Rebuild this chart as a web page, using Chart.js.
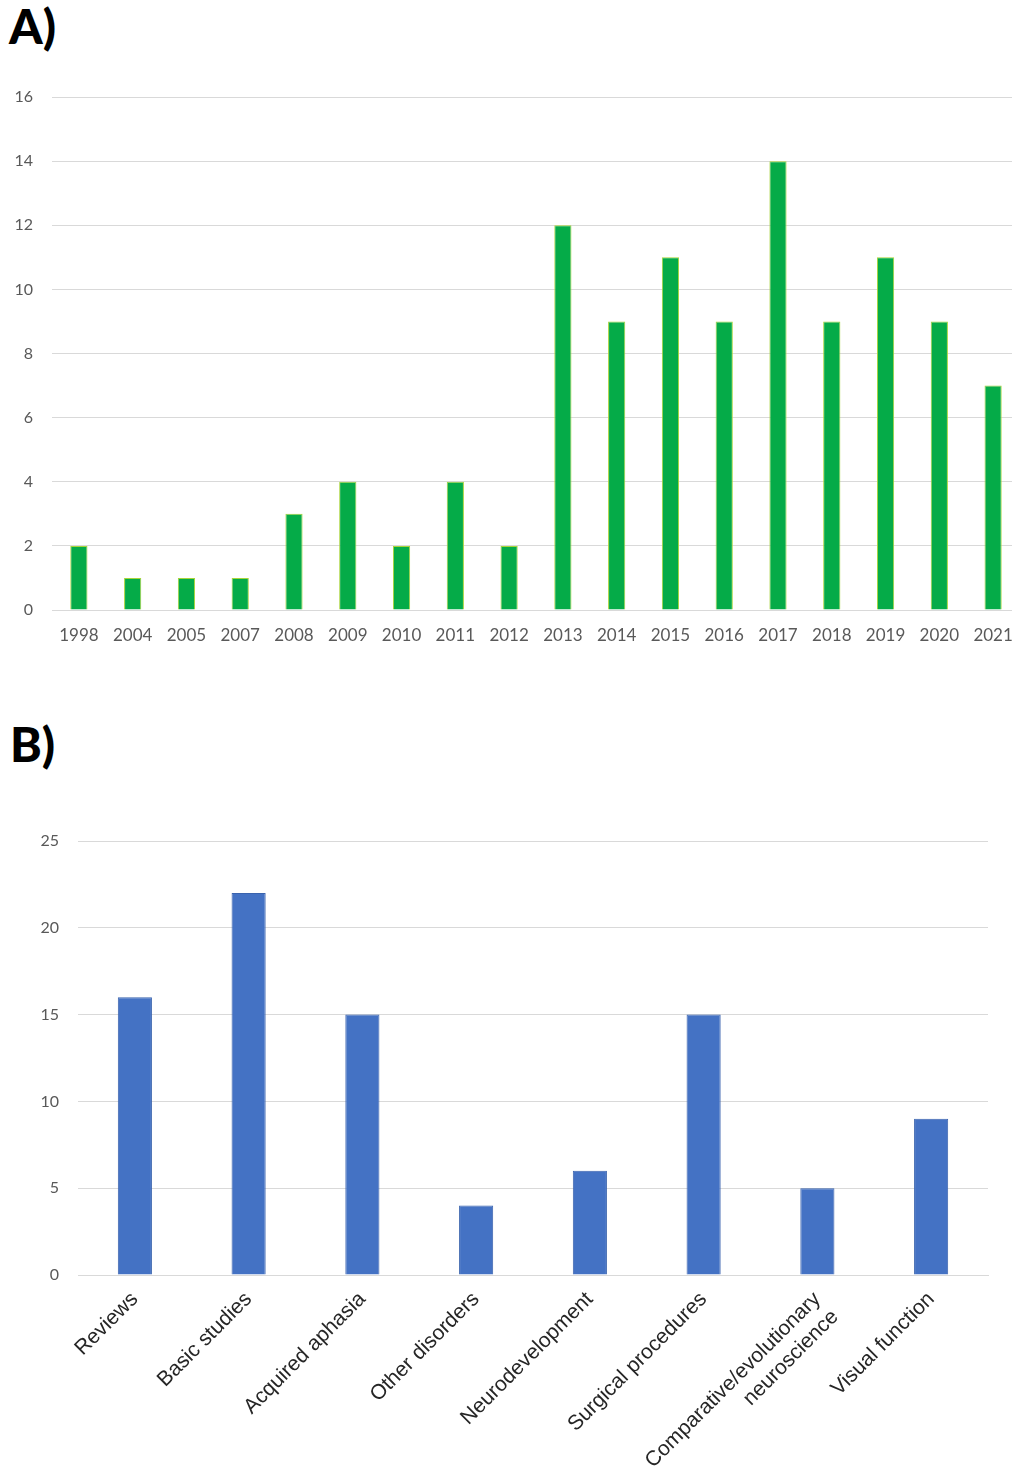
<!DOCTYPE html>
<html>
<head>
<meta charset="utf-8">
<script src="https://cdn.jsdelivr.net/npm/chart.js@4"></script>
<style>
  html, body { margin: 0; padding: 0; background: #fff; }
  body { width: 1012px; height: 1470px; position: relative; overflow: hidden; }
  .lbl { position: absolute; font-family: Lato, "Open Sans", sans-serif; font-weight: 900; font-size: 48px; line-height: 48px; color: #000; }
  .wrap { position: absolute; left: 0; width: 1012px; }
</style>
</head>
<body>
<div class="lbl" style="left:9px; top:2px;">A)</div>
<div class="lbl" style="left:10px; top:720px;">B)</div>
<div class="wrap" style="top:0; height:660px; width:1020px;"><canvas id="cA"></canvas></div>
<div class="wrap" style="top:790px; height:680px;"><canvas id="cB"></canvas></div>
<script>
const yearLabels = ["1998","2004","2005","2007","2008","2009","2010","2011","2012","2013","2014","2015","2016","2017","2018","2019","2020","2021"];
const yearCounts = [2,1,1,1,3,4,2,4,2,12,9,11,9,14,9,11,9,7];
const yAMax = 16;
const yAStep = 2;

const topicLabels = ["Reviews","Basic studies","Acquired aphasia","Other disorders","Neurodevelopment","Surgical procedures",["Comparative/evolutionary","neuroscience"],"Visual function"];
const topicCounts = [16,22,15,4,6,15,5,9];
const yBMax = 25;
const yBStep = 5;

Chart.defaults.animation = false;

function fixX(h) {
  return (s) => { s.height = h; s.paddingLeft = 0; s.paddingRight = 0; };
}

new Chart(document.getElementById('cA'), {
  type: 'bar',
  data: {
    labels: yearLabels,
    datasets: [{
      data: yearCounts,
      backgroundColor: '#05AB48',
      borderColor: '#A8D43A',
      borderWidth: 1,
      barPercentage: 0.32,
      categoryPercentage: 1.0
    }]
  },
  options: {
    responsive: true,
    maintainAspectRatio: false,
    layout: { padding: { top: 97, right: 0, bottom: 0, left: 0 } },
    plugins: { legend: { display: false }, tooltip: { enabled: false } },
    scales: {
      x: {
        grid: { display: false, drawTicks: false },
        border: { display: true, color: '#d9d9d9', width: 1 },
        ticks: { color: '#595959', font: { family: 'Lato', size: 17 }, padding: 15, maxRotation: 0, autoSkip: false },
        afterFit: fixX(50)
      },
      y: {
        min: 0, max: yAMax,
        grid: { color: '#d9d9d9', lineWidth: 1, drawTicks: false },
        border: { display: false },
        ticks: { stepSize: yAStep, color: '#595959', font: { family: 'Lato', size: 16 }, padding: 19 },
        afterFit: (s) => { s.width = 52; }
      }
    }
  }
});

new Chart(document.getElementById('cB'), {
  type: 'bar',
  data: {
    labels: topicLabels,
    datasets: [{
      data: topicCounts,
      backgroundColor: '#4472C4',
      borderColor: '#3A63AE',
      borderWidth: 1,
      barPercentage: 0.3,
      categoryPercentage: 1.0
    }]
  },
  options: {
    responsive: true,
    maintainAspectRatio: false,
    layout: { padding: { top: 51, right: 24, bottom: 0, left: 0 } },
    plugins: { legend: { display: false }, tooltip: { enabled: false } },
    scales: {
      x: {
        grid: { display: false, drawTicks: false },
        border: { display: true, color: '#d9d9d9', width: 1 },
        ticks: { color: '#262626', font: { family: 'Liberation Sans', size: 21 }, padding: 12, minRotation: 45, maxRotation: 45, autoSkip: false },
        afterFit: fixX(195)
      },
      y: {
        min: 0, max: yBMax,
        grid: { color: '#d9d9d9', lineWidth: 1, drawTicks: false },
        border: { display: false },
        ticks: { stepSize: yBStep, color: '#595959', font: { family: 'Lato', size: 16 }, padding: 19 },
        afterFit: (s) => { s.width = 78; }
      }
    }
  }
});
</script>
</body>
</html>
